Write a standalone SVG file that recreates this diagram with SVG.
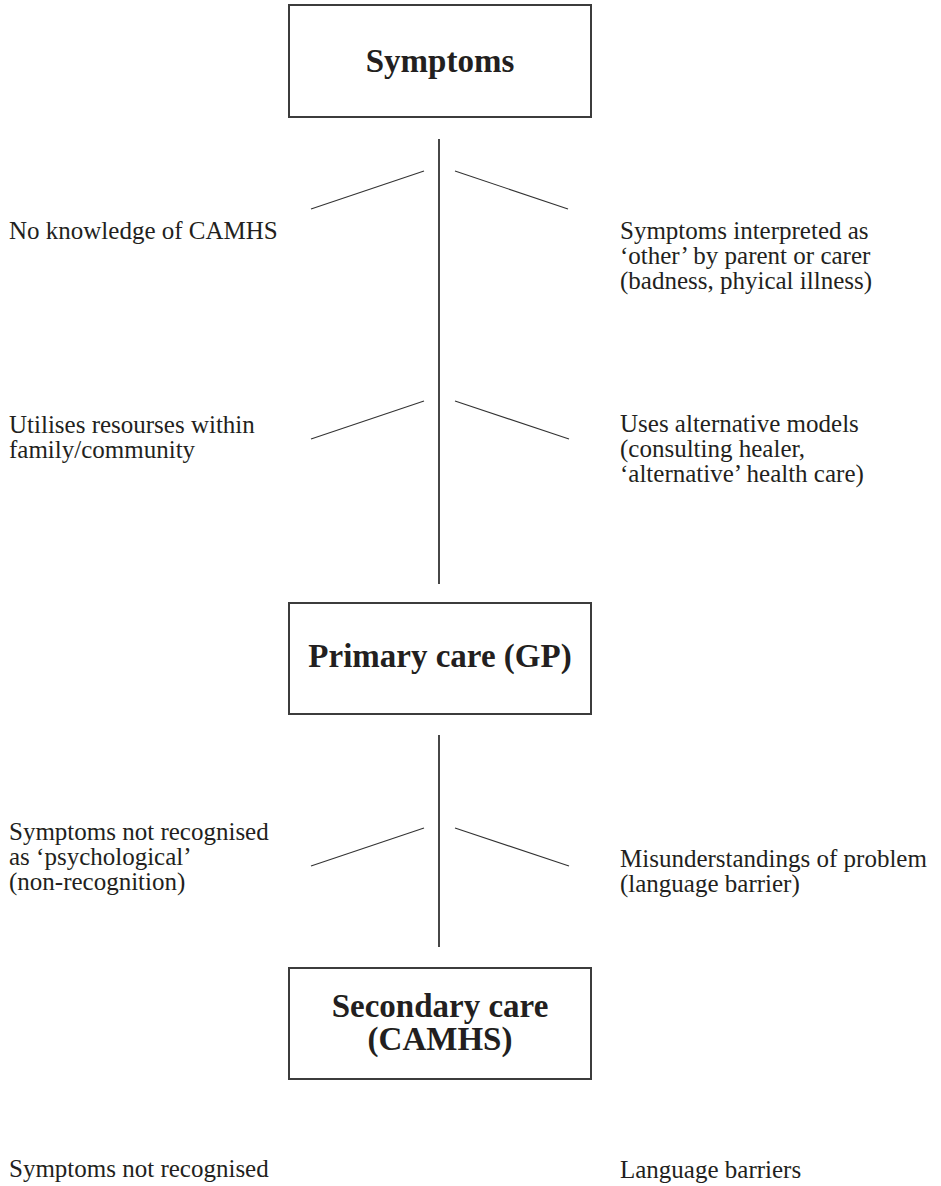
<svg xmlns="http://www.w3.org/2000/svg" width="941" height="1186" viewBox="0 0 941 1186">
<style>
.box{fill:#fff;stroke:#3c3c3c;stroke-width:2}
.title{font-family:"Liberation Serif",serif;font-weight:bold;font-size:33px;fill:#231f20;text-anchor:middle}
.lbl{font-family:"Liberation Serif",serif;font-size:25px;fill:#231f20}
.stem{stroke:#333;stroke-width:1.8;fill:none}
.tick{stroke:#333;stroke-width:1.1;fill:none}
</style>
<rect width="941" height="1186" fill="#fff"/>
<g id="connectors">
<line class="stem" x1="439" y1="139" x2="439" y2="584"/>
<line class="tick" x1="311" y1="209" x2="424" y2="171"/>
<line class="tick" x1="455" y1="171" x2="568" y2="209"/>
<line class="tick" x1="311" y1="439" x2="424" y2="401"/>
<line class="tick" x1="455" y1="401" x2="569" y2="439"/>
<line class="stem" x1="439" y1="735" x2="439" y2="947"/>
<line class="tick" x1="311" y1="866" x2="424" y2="828"/>
<line class="tick" x1="455" y1="828" x2="569" y2="866"/>
</g>
<g id="symptoms">
<rect class="box" x="289" y="5" width="302" height="112"/>
<text class="title" x="440" y="72">Symptoms</text>
</g>
<g id="primary">
<rect class="box" x="289" y="603" width="302" height="111"/>
<text class="title" x="440" y="667">Primary care (GP)</text>
</g>
<g id="secondary">
<rect class="box" x="289" y="968" width="302" height="111"/>
<text class="title" x="440" y="1017">Secondary care</text>
<text class="title" x="440" y="1050">(CAMHS)</text>
</g>
<g id="no-knowledge">
<text class="lbl" x="9" y="239">No knowledge of CAMHS</text>
</g>
<g id="interpreted-other">
<text class="lbl" x="620" y="239">Symptoms interpreted as</text>
<text class="lbl" x="620" y="264">‘other’ by parent or carer</text>
<text class="lbl" x="620" y="289">(badness, phyical illness)</text>
</g>
<g id="utilises-resources">
<text class="lbl" x="9" y="433">Utilises resourses within</text>
<text class="lbl" x="9" y="458">family/community</text>
</g>
<g id="alternative-models">
<text class="lbl" x="620" y="432">Uses alternative models</text>
<text class="lbl" x="620" y="457">(consulting healer,</text>
<text class="lbl" x="620" y="482">‘alternative’ health care)</text>
</g>
<g id="not-recognised-psych">
<text class="lbl" x="9" y="840">Symptoms not recognised</text>
<text class="lbl" x="9" y="865">as ‘psychological’</text>
<text class="lbl" x="9" y="890">(non-recognition)</text>
</g>
<g id="misunderstandings">
<text class="lbl" x="620" y="867">Misunderstandings of problem</text>
<text class="lbl" x="620" y="892">(language barrier)</text>
</g>
<g id="not-recognised">
<text class="lbl" x="9" y="1177">Symptoms not recognised</text>
</g>
<g id="language-barriers">
<text class="lbl" x="620" y="1178">Language barriers</text>
</g>
</svg>
